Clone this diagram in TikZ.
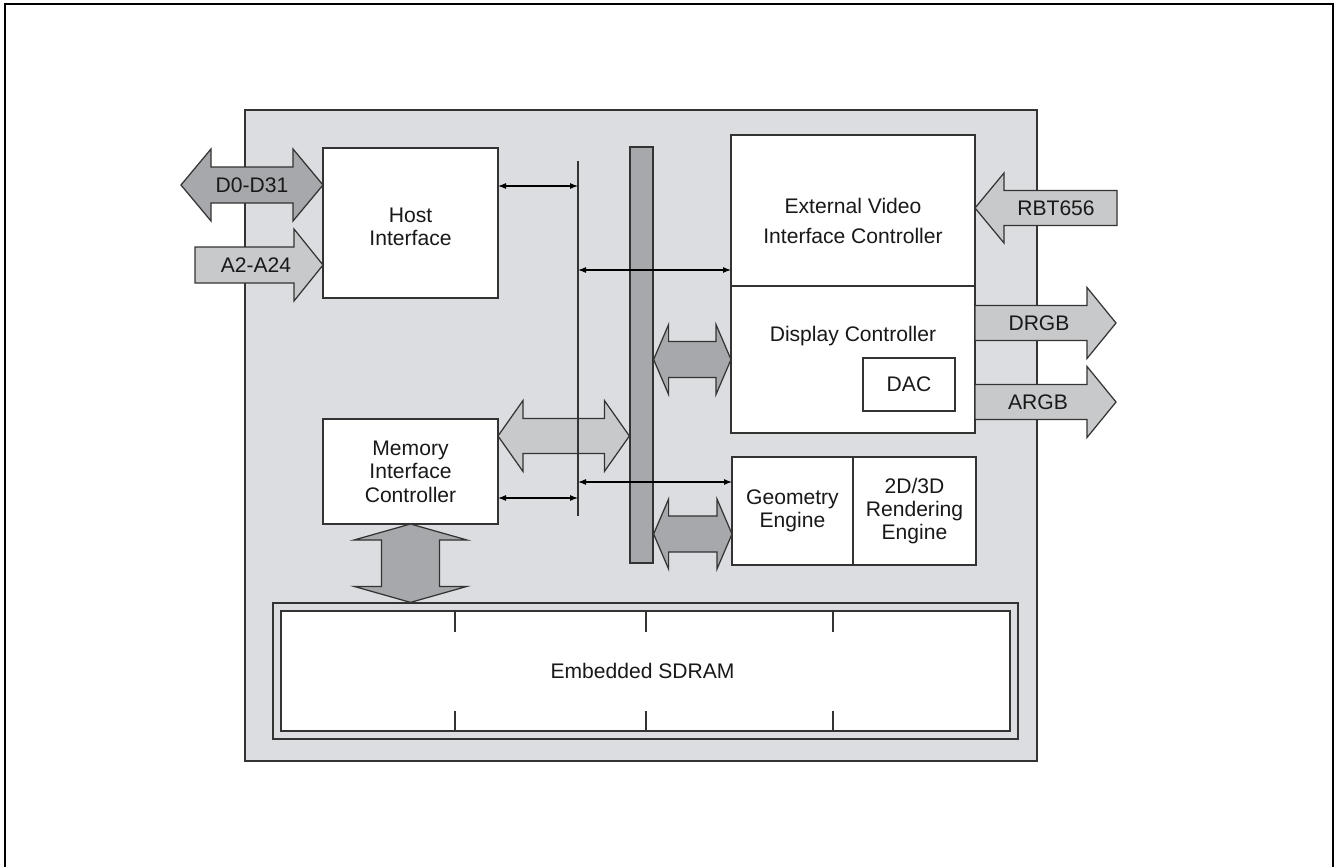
\documentclass[tikz,border=0pt]{standalone}
\usepackage{fontspec}
\setmainfont{Liberation Sans}
\usetikzlibrary{arrows.meta, positioning, calc}

\definecolor{chipGray}{HTML}{DCDDE0}
\definecolor{fatDarkGray}{HTML}{A7A8AB}
\definecolor{fatLightGray}{HTML}{C8C9CB}
\definecolor{lineGray}{HTML}{333333}

\begin{document}
\begin{tikzpicture}[
        x=0.2mm, y=-0.2mm,
        blockBox/.style={
            draw=lineGray,
            fill=white,
            line width=0.7pt,
            inner sep=0pt,
            outer sep=0pt,
            align=center,
            font=\fontsize{12}{13.3}\selectfont,
            text=black!90
        },
        textOnly/.style={
            inner sep=0pt,
            align=center,
            font=\fontsize{12}{13.3}\selectfont,
            text=black!90
        },
        busArrow/.style={
            {Latex[length=1.6mm,width=1.2mm]}-{Latex[length=1.6mm,width=1.2mm]},
            draw=black,
            line width=0.6pt
        },
        fatDark/.style={
            draw=lineGray,
            fill=fatDarkGray,
            line width=0.7pt,
            line join=miter
        },
        fatLight/.style={
            draw=lineGray,
            fill=fatLightGray,
            line width=0.7pt,
            line join=miter
        },
        % head length, head half width, shaft half width
        fatDouble/.style n args={3}{
            to path={
                (\tikztostart)
                -- ($(\tikztostart)!#1!(\tikztotarget)!#2!90:(\tikztotarget)$)
                -- ($(\tikztostart)!#1!(\tikztotarget)!#3!90:(\tikztotarget)$)
                -- ($(\tikztotarget)!#1!(\tikztostart)!#3!-90:(\tikztostart)$)
                -- ($(\tikztotarget)!#1!(\tikztostart)!#2!-90:(\tikztostart)$)
                -- (\tikztotarget)
                -- ($(\tikztotarget)!#1!(\tikztostart)!#2!90:(\tikztostart)$)
                -- ($(\tikztotarget)!#1!(\tikztostart)!#3!90:(\tikztostart)$)
                -- ($(\tikztostart)!#1!(\tikztotarget)!#3!-90:(\tikztotarget)$)
                -- ($(\tikztostart)!#1!(\tikztotarget)!#2!-90:(\tikztotarget)$)
                -- cycle
            }
        },
        fatSingle/.style n args={3}{
            to path={
                ($(\tikztostart)!#3!90:(\tikztotarget)$)
                -- ($(\tikztotarget)!#1!(\tikztostart)!#3!-90:(\tikztostart)$)
                -- ($(\tikztotarget)!#1!(\tikztostart)!#2!-90:(\tikztostart)$)
                -- (\tikztotarget)
                -- ($(\tikztotarget)!#1!(\tikztostart)!#2!90:(\tikztostart)$)
                -- ($(\tikztotarget)!#1!(\tikztostart)!#3!90:(\tikztostart)$)
                -- ($(\tikztostart)!#3!-90:(\tikztotarget)$)
                -- cycle
            }
        }
    ]

        \useasboundingbox (0,0) rectangle (1336,867);

        % Frame and chip area
        \draw[black, line width=1.1pt] (5,4) rectangle (1333,880);
        \draw[lineGray, fill=chipGray, line width=0.7pt] (245,110) rectangle (1037,761);

        % Blocks
        \node[blockBox, minimum width=35mm, minimum height=30mm] (host) at (410.5,223) {};
        \node[textOnly] (hostText) at (410.5,227) {Host\\Interface};

        \node[blockBox, minimum width=35mm, minimum height=21mm] (memctl) at (410.5,471.5) {
            Memory\\Interface\\Controller
        };

        \node[blockBox, minimum width=48.8mm, minimum height=30.2mm] (evic) at (853,210.5) {};
        \node[textOnly, font=\fontsize{12}{17}\selectfont] (evicText) at (853,221) {
            External Video\\Interface Controller
        };

        \node[
            blockBox,
            minimum width=48.8mm,
            minimum height=29.4mm,
            below=0pt of evic
        ] (disp) {};
        \node[textOnly] (dispText) at (853,336) {Display Controller};

        \node[blockBox, minimum width=18.4mm, minimum height=10.6mm] (dac) at (909,384.5) {DAC};

        \node[blockBox, minimum width=24.2mm, minimum height=21.6mm] (geom) at (792.5,511) {
            Geometry\\Engine
        };
        \node[
            blockBox,
            minimum width=24.6mm,
            minimum height=21.6mm,
            right=0pt of geom
        ] (rend) {
            2D/3D\\Rendering\\Engine
        };

        % Embedded memory
        \node[
            draw=lineGray,
            fill=chipGray,
            line width=0.7pt,
            minimum width=149mm,
            minimum height=27.2mm,
            inner sep=0pt
        ] (sdramOuter) at (645.5,671) {};
        \node[blockBox, minimum width=145.8mm, minimum height=24mm] (sdram) at (645.5,671) {
            Embedded SDRAM
        };
        \foreach \dx in {455,646,833} {
            \draw[lineGray, line width=0.6pt] (\dx,611) -- (\dx,632);
            \draw[lineGray, line width=0.6pt] (\dx,711) -- (\dx,731);
        }

        % Internal bus
        \node[
            draw=lineGray,
            fill=fatDarkGray,
            line width=0.7pt,
            minimum width=4.6mm,
            minimum height=83.2mm,
            inner sep=0pt
        ] (bar) at (641.5,355) {};

        \coordinate (busTop) at (578,161);
        \coordinate (busBot) at (578,516);
        \coordinate (busH) at (578,186);
        \coordinate (busE) at (578,270);
        \coordinate (busG) at (578,482);
        \coordinate (busM) at (578,498);

        \coordinate (memIn) at ([yshift=7.1mm]memctl.east);
        \coordinate (geomIn) at ([yshift=-4.6mm]geom.west);

        \draw[fatLight, fatDouble={5mm}{7.1mm}{3.5mm}] (memIn) to (bar.west |- memIn);
        \draw[fatDark, fatDouble={3mm}{7mm}{3.6mm}] (bar.east |- disp.west) to (disp.west);
        \draw[fatDark, fatDouble={3mm}{7mm}{3.6mm}] (bar.east |- geomIn) to (geomIn);
        \draw[fatDark, fatDouble={3.2mm}{11.3mm}{5.8mm}] (memctl.south) to (memctl.south |- sdramOuter.north);

        \draw[lineGray, line width=0.7pt] (busTop) -- (busBot);

        \draw[busArrow] (host.east |- busH) -- (busH);
        \draw[busArrow] (busE) -- (evic.west |- busE);
        \draw[busArrow] (busG) -- (geom.west |- busG);
        \draw[busArrow] (memctl.east |- busM) -- (busM);

        % External signals
        \coordinate (d0End) at (181,185);
        \coordinate (d0In) at ([yshift=7.6mm]host.west);
        \coordinate (a2End) at (195,265);
        \coordinate (a2In) at ([yshift=-8.4mm]host.west);
        \coordinate (rbtEnd) at (1117,208);
        \coordinate (drgbEnd) at (1116,323);
        \coordinate (argbEnd) at (1116,402);

        \draw[fatDark, fatDouble={6mm}{7.2mm}{3.6mm}] (d0End) to (d0In);
        \draw[fatLight, fatSingle={5.8mm}{7.2mm}{3.6mm}] (a2End) to (a2In);
        \draw[fatLight, fatSingle={5.8mm}{7mm}{3.5mm}] (rbtEnd) to (evic.east |- rbtEnd);
        \draw[fatLight, fatSingle={5.8mm}{7.1mm}{3.5mm}] (disp.east |- drgbEnd) to (drgbEnd);
        \draw[fatLight, fatSingle={5.8mm}{7.1mm}{3.5mm}] (disp.east |- argbEnd) to (argbEnd);

        \node[textOnly] (d0Label) at (252,185) {D0-D31};
        \node[textOnly] (a2Label) at (256,265) {A2-A24};
        \node[textOnly] (rbtLabel) at (1056,208) {RBT656};
        \node[textOnly] (drgbLabel) at (1039,323) {DRGB};
        \node[textOnly] (argbLabel) at (1038,402) {ARGB};

    \end{tikzpicture}
\end{document}
